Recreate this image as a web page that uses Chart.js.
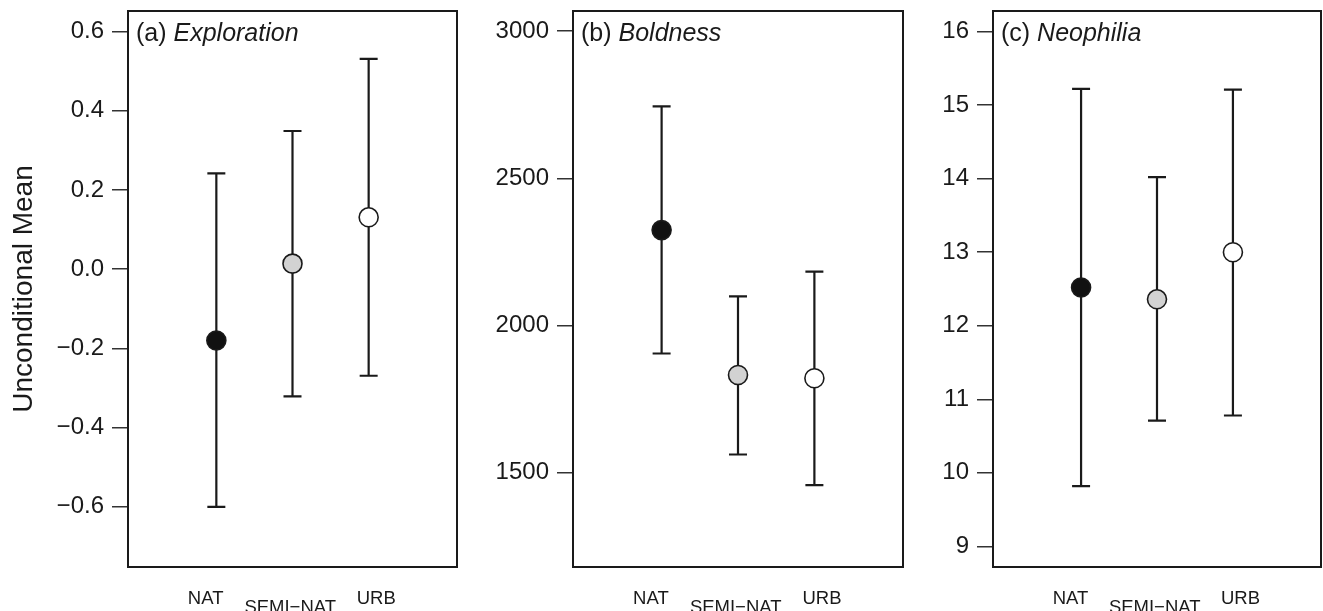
<!DOCTYPE html>
<html>
<head>
<meta charset="utf-8">
<script src="https://cdn.jsdelivr.net/npm/chart.js@4.4.1/dist/chart.umd.min.js"></script>
<style>
  body { margin: 0; background: #fff; }
  #wrap { position: relative; width: 1323px; height: 611px; }
  canvas { position: absolute; top: 0; }
</style>
</head>
<body>
<div id="wrap">
  <canvas id="panelA" width="462" height="611" style="left:0px"></canvas>
  <canvas id="panelB" width="443" height="611" style="left:462px"></canvas>
  <canvas id="panelC" width="418" height="611" style="left:905px"></canvas>
</div>
<script>
const categories = ['NAT', 'SEMI\u2212NAT', 'URB'];
const habitatX = [1, 2, 3];
const labelX = [0.86, 1.97, 3.1];
const fills = ['#111111', '#d2d2d2', '#ffffff'];

const explorationMean = [-0.18, 0.014, 0.131];
const explorationLow = [-0.60, -0.321, -0.269];
const explorationHigh = [0.242, 0.349, 0.531];
const explorationTicks = [-0.6, -0.4, -0.2, 0, 0.2, 0.4, 0.6];
const explorationRange = [-0.752, 0.652];

const boldnessMean = [2324, 1832, 1821];
const boldnessLow = [1905, 1562, 1458];
const boldnessHigh = [2744, 2099, 2183];
const boldnessTicks = [1500, 2000, 2500, 3000];
const boldnessRange = [1180, 3068];

const neophiliaMean = [12.52, 12.36, 13.0];
const neophiliaLow = [9.82, 10.71, 10.78];
const neophiliaHigh = [15.22, 14.02, 15.21];
const neophiliaTicks = [9, 10, 11, 12, 13, 14, 15, 16];
const neophiliaRange = [8.72, 16.28];

const ink = '#1a1a1a';
const family = '"Liberation Sans", Arial, Helvetica, sans-serif';
Chart.defaults.font.family = family;
Chart.defaults.color = ink;

// error bars under the points, frame + panel title on top
const panelDecor = {
  id: 'panelDecor',
  beforeDatasetsDraw(chart, args, opts) {
    const {ctx, scales: {x, y}} = chart;
    ctx.save();
    ctx.strokeStyle = ink;
    ctx.lineWidth = 2.2;
    opts.low.forEach((lo, i) => {
      const px = x.getPixelForValue(habitatX[i]);
      const y1 = y.getPixelForValue(lo);
      const y2 = y.getPixelForValue(opts.high[i]);
      ctx.beginPath();
      ctx.moveTo(px, y1); ctx.lineTo(px, y2);
      ctx.moveTo(px - 9, y1); ctx.lineTo(px + 9, y1);
      ctx.moveTo(px - 9, y2); ctx.lineTo(px + 9, y2);
      ctx.stroke();
    });
    ctx.restore();
  },
  afterDraw(chart, args, opts) {
    const {ctx, chartArea: a} = chart;
    ctx.save();
    ctx.strokeStyle = ink;
    ctx.lineWidth = 2;
    ctx.strokeRect(a.left, a.top, a.right - a.left, a.bottom - a.top);
    ctx.fillStyle = ink;
    ctx.textBaseline = 'alphabetic';
    ctx.font = '25px ' + family;
    const tag = opts.tag + ' ';
    ctx.fillText(tag, a.left + 8, a.top + 30);
    const w = ctx.measureText(tag).width;
    ctx.font = 'italic 25px ' + family;
    ctx.fillText(opts.name, a.left + 8 + w, a.top + 30);
    ctx.restore();
  }
};

function fmt(decimals) {
  return v => (v < 0 ? '\u2212' : '') + Math.abs(v).toFixed(decimals);
}

function makePanel(id, mean, low, high, ticks, range, decimals, tag, name, axisWidth, padRight, withTitle) {
  return new Chart(document.getElementById(id), {
    type: 'scatter',
    data: {
      datasets: [{
        data: habitatX.map((x, i) => ({x: x, y: mean[i]})),
        pointRadius: 9.5,
        pointHoverRadius: 9.5,
        pointBackgroundColor: fills,
        pointBorderColor: ink,
        pointBorderWidth: 1.6,
        showLine: false
      }]
    },
    options: {
      responsive: false,
      animation: false,
      devicePixelRatio: 1,
      layout: {autoPadding: false, padding: {top: 11, right: padRight, left: 0, bottom: 0}},
      plugins: {
        legend: {display: false},
        tooltip: {enabled: false},
        panelDecor: {low: low, high: high, tag: tag, name: name}
      },
      scales: {
        x: {
          type: 'linear',
          min: -0.16,
          max: 4.16,
          afterBuildTicks: s => { s.ticks = labelX.map(v => ({value: v})); },
          afterFit: s => { s.height = 44; s.paddingLeft = 0; s.paddingRight = 0; },
          grid: {display: false},
          border: {display: false},
          ticks: {
            autoSkip: false,
            maxRotation: 0,
            minRotation: 0,
            padding: 19,
            font: {size: 18.5, lineHeight: 0.5},
            callback: (v, i) => i === 1 ? ['', categories[i]] : categories[i]
          }
        },
        y: {
          min: range[0],
          max: range[1],
          afterBuildTicks: s => { s.ticks = ticks.map(v => ({value: v})); },
          afterFit: s => { s.width = axisWidth; s.paddingTop = 0; s.paddingBottom = 0; },
          grid: {drawOnChartArea: false, drawTicks: true, tickLength: 16, color: '#333', lineWidth: 1.5},
          border: {display: false},
          ticks: {padding: 8, font: {size: 24}, callback: fmt(decimals)},
          title: {
            display: withTitle,
            text: 'Unconditional Mean',
            font: {size: 28},
            padding: {top: 7}
          }
        }
      }
    },
    plugins: [panelDecor]
  });
}

makePanel('panelA', explorationMean, explorationLow, explorationHigh, explorationTicks, explorationRange, 1, '(a)', 'Exploration', 128, 5, true);
makePanel('panelB', boldnessMean, boldnessLow, boldnessHigh, boldnessTicks, boldnessRange, 0, '(b)', 'Boldness', 111, 2, false);
makePanel('panelC', neophiliaMean, neophiliaLow, neophiliaHigh, neophiliaTicks, neophiliaRange, 0, '(c)', 'Neophilia', 88, 2, false);
</script>
</body>
</html>
